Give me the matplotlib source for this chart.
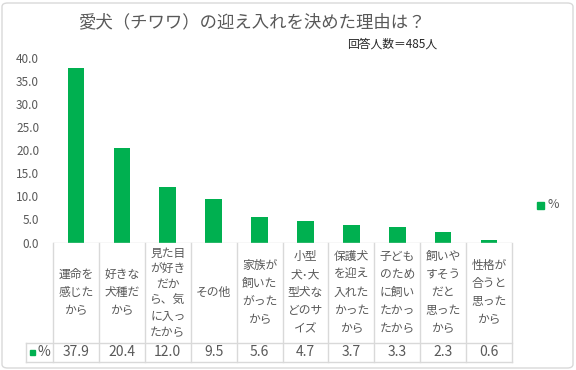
import matplotlib.pyplot as plt
import matplotlib.transforms as mtransforms
from matplotlib.patches import FancyBboxPatch, Rectangle

plt.rcParams['font.family'] = ['Noto Sans CJK JP', 'DejaVu Sans']

categories = [
    "運命を\n感じた\nから",
    "好きな\n犬種だ\nから",
    "見た目\nが好き\nだか\nら、気\nに入っ\nたから",
    "その他",
    "家族が\n飼いた\nがった\nから",
    "小型\n犬･大\n型犬な\nどのサ\nイズ",
    "保護犬\nを迎え\n入れた\nかった\nから",
    "子ども\nのため\nに飼い\nたかっ\nたから",
    "飼いや\nすそう\nだと\n思った\nから",
    "性格が\n合うと\n思った\nから",
]
values = [37.9, 20.4, 12.0, 9.5, 5.6, 4.7, 3.7, 3.3, 2.3, 0.6]
series_name = "%"
title = "愛犬（チワワ）の迎え入れを決めた理由は？"
subtitle = "回答人数＝485人"
yticks = [0, 5, 10, 15, 20, 25, 30, 35, 40]

green = "#00B050"
grey_text = "#595959"
line_c = "#d9d9d9"

W, H = 576, 370
fig = plt.figure(figsize=(W / 100, H / 100), dpi=100)

# outer frame
fig.patches.append(FancyBboxPatch((2 / W, 2 / H), 1 - 5 / W, 1 - 5 / H,
                                  boxstyle="round,pad=0,rounding_size=0.01",
                                  transform=fig.transFigure, fill=False,
                                  edgecolor=line_c, linewidth=1.0))

x0, x1 = 53, 512
y_zero, y_top = 242.5, 58
ax = fig.add_axes([x0 / W, 1 - y_zero / H, (x1 - x0) / W, (y_zero - y_top) / H])

n = len(values)
ax.bar(range(n), values, width=0.36, color=green, zorder=3)
ax.set_xlim(-0.5, n - 0.5)
ax.set_ylim(0, 40)
ax.set_yticks(yticks)
ax.set_yticklabels([f"{v:.1f}" for v in yticks])
ax.tick_params(axis='y', length=0, pad=10, labelsize=8.5, labelcolor=grey_text)
ax.set_xticks([])
for s in ax.spines.values():
    s.set_visible(False)
ax.axhline(0, color=line_c, linewidth=1, zorder=4)

# data table below the axis
trans = mtransforms.blended_transform_factory(ax.transData, ax.transAxes)
ax_h = y_zero - y_top
def yf(px):
    return (y_zero - px) / ax_h

y_cat_bot = yf(342.5)
y_val_bot = yf(362)
left_x = -0.5 - (x0 - 26) / ((x1 - x0) / n)

for i in range(n + 1):
    ax.plot([i - 0.5, i - 0.5], [0, y_val_bot], color=line_c, lw=1,
            transform=trans, clip_on=False)
ax.plot([left_x, left_x], [y_cat_bot, y_val_bot], color=line_c, lw=1,
        transform=trans, clip_on=False)
for yy in (y_cat_bot, y_val_bot):
    ax.plot([left_x, n - 0.5], [yy, yy], color=line_c, lw=1,
            transform=trans, clip_on=False)

y_cat_mid = (0 + y_cat_bot) / 2
y_val_mid = (y_cat_bot + y_val_bot) / 2
for i, (c, v) in enumerate(zip(categories, values)):
    ls = 1.5 if c.count("\n") < 5 else 1.28
    ax.text(i, y_cat_mid, c, transform=trans, ha='center', va='center',
            fontsize=8.5, color=grey_text, linespacing=ls)
    ax.text(i, y_val_mid, f"{v:.1f}", transform=trans, ha='center',
            va='center', fontsize=10, color=grey_text)

# legend key inside table
fig.patches.append(Rectangle((30 / W, 1 - 355 / H), 5 / W, 5 / H,
                             transform=fig.transFigure, color=green))
fig.text(37 / W, 1 - 352 / H, series_name, ha='left', va='center',
         fontsize=10, color=grey_text)

# legend on right
fig.patches.append(Rectangle((537 / W, 1 - 209 / H), 7 / W, 7 / H,
                             transform=fig.transFigure, color=green))
fig.text(547 / W, 1 - 205 / H, series_name, ha='left', va='center',
         fontsize=9, color=grey_text)

fig.text(252 / W, 1 - 22 / H, title, ha='center', va='center',
         fontsize=12.5, color=grey_text)
fig.text(392 / W, 1 - 44 / H, subtitle, ha='center', va='center',
         fontsize=8.5, color="#262626")

fig.savefig("out.png", dpi=100)
